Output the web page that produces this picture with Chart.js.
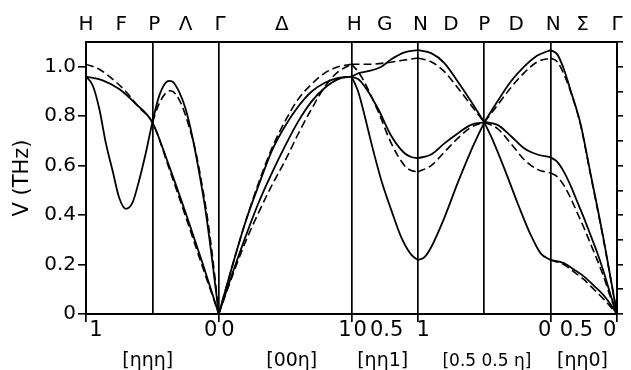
<!DOCTYPE html>
<html>
<head>
<meta charset="utf-8">
<script src="https://cdn.jsdelivr.net/npm/chart.js@4.4.0/dist/chart.umd.min.js"></script>
<style>html,body{margin:0;padding:0;background:#fff;}</style>
</head>
<body>
<canvas id="myChart" width="631" height="370"></canvas>
<script>
// x is path position: H=0, P=1, Gamma=2, H=4, N=5, P=6, N=7, Gamma=8
const segBounds = [0, 1, 2, 4, 5, 6, 7, 8];
const segExtend = [0, 2, 4, 5, 7, 8];   // boundary lines that run below the axis
const topPos = [0, 0.53, 1.03, 1.5, 2.02, 2.95, 4.04, 4.5, 5.04, 5.5, 6, 6.48, 7.04, 7.48, 8];
const topText = ['H', 'F', 'P', 'Λ', 'Γ', 'Δ', 'H', 'G', 'N', 'D', 'P', 'D', 'N', 'Σ', 'Γ'];
const coordPos = [0.15, 1.88, 2.14, 3.9, 4.13, 4.53, 5.08, 6.91, 7.39, 7.89];
const coordText = ['1', '0', '0', '1', '0', '0.5', '1', '0', '0.5', '0'];
const dirPos = [0.93, 3.1, 4.47, 6.04, 7.48];
const dirText = ['[ηηη]', '[00η]', '[ηη1]', '[0.5 0.5 η]', '[ηη0]'];

// H - P - Gamma
const hpUpper = [[0,0.96],[0.25,0.945],[0.5,0.91],[0.75,0.85],[1,0.775],[1.25,0.6],[1.5,0.41],[1.75,0.21],[2,0]];
const hpUpperD = [[0,1.01],[0.2,0.99],[0.4,0.95],[0.6,0.9],[0.8,0.835],[1,0.775],[1.25,0.59],[1.5,0.395],[1.75,0.195],[2,0]];
const hpLower = [[0,0.96],[0.1,0.925],[0.2,0.83],[0.3,0.69],[0.4,0.58],[0.5,0.47],[0.6,0.425],[0.7,0.45],[0.8,0.54],[0.9,0.65],[1,0.775],
                 [1.1,0.88],[1.2,0.935],[1.25,0.943],[1.3,0.94],[1.4,0.9],[1.5,0.83],[1.6,0.72],[1.7,0.58],[1.8,0.42],[1.9,0.22],[2,0]];
const pgPeakD = [[1,0.775],[1.1,0.85],[1.2,0.893],[1.27,0.903],[1.35,0.89],[1.45,0.84],[1.55,0.76],[1.65,0.66],[1.75,0.52],[1.85,0.35],[1.95,0.13],[2,0]];

// Gamma - H
const ghOuter = [[2,0],[2.2,0.19],[2.4,0.37],[2.6,0.52],[2.8,0.66],[3,0.76],[3.2,0.84],[3.4,0.9],[3.6,0.935],[3.8,0.955],[4,0.96]];
const ghOuterD = [[2,0],[2.2,0.19],[2.4,0.37],[2.6,0.53],[2.8,0.67],[3,0.78],[3.2,0.87],[3.4,0.93],[3.6,0.975],[3.8,1.0],[4,1.01]];
const ghInner = [[2,0],[2.2,0.16],[2.4,0.31],[2.6,0.45],[2.8,0.57],[3,0.68],[3.2,0.78],[3.4,0.86],[3.6,0.915],[3.8,0.95],[4,0.96]];
const ghInnerD = [[2,0],[2.2,0.15],[2.4,0.29],[2.6,0.41],[2.8,0.52],[3,0.62],[3.2,0.73],[3.4,0.83],[3.6,0.92],[3.8,0.98],[4,1.01]];

// H - N
const hnTop = [[4,0.96],[4.12,0.975],[4.3,0.985],[4.45,1.0],[4.6,1.03],[4.8,1.058],[5,1.067]];
const hnTopD = [[4,1.01],[4.25,1.01],[4.5,1.015],[4.75,1.025],[5,1.035]];
const hnMid = [[4,0.96],[4.1,0.95],[4.2,0.92],[4.4,0.83],[4.6,0.72],[4.8,0.65],[4.9,0.635],[5,0.63]];
const hnMidD = [[4,1.01],[4.1,0.98],[4.2,0.935],[4.4,0.82],[4.6,0.69],[4.8,0.6],[4.9,0.58],[5,0.575]];
const hnLow = [[4,0.96],[4.1,0.9],[4.2,0.8],[4.3,0.69],[4.45,0.54],[4.6,0.42],[4.75,0.31],[4.9,0.24],[5,0.218]];

// N - P
const npTop = [[5,1.067],[5.2,1.055],[5.4,1.015],[5.6,0.94],[5.8,0.86],[6,0.775]];
const npTopD = [[5,1.035],[5.2,1.02],[5.4,0.98],[5.6,0.915],[5.8,0.845],[6,0.775]];
const npMid = [[5,0.63],[5.2,0.645],[5.4,0.69],[5.6,0.73],[5.8,0.765],[6,0.775]];
const npMidD = [[5,0.575],[5.2,0.6],[5.4,0.655],[5.6,0.71],[5.8,0.755],[6,0.775]];
const npLow = [[5,0.218],[5.1,0.23],[5.2,0.27],[5.4,0.39],[5.6,0.53],[5.8,0.66],[6,0.775]];

// P - N
const pnTop = [[6,0.775],[6.2,0.86],[6.4,0.94],[6.6,1.0],[6.8,1.045],[7,1.067]];
const pnTopD = [[6,0.775],[6.2,0.845],[6.4,0.915],[6.6,0.975],[6.8,1.02],[7,1.035]];
const pnMid = [[6,0.777],[6.2,0.765],[6.4,0.72],[6.6,0.67],[6.8,0.645],[7,0.634]];
const pnMidD = [[6,0.775],[6.2,0.75],[6.4,0.69],[6.6,0.625],[6.8,0.585],[7,0.57]];
const pnLow = [[6,0.775],[6.1,0.72],[6.3,0.59],[6.5,0.45],[6.7,0.32],[6.85,0.245],[7,0.218]];

// N - Gamma
const ngTop = [[7,1.067],[7.1,1.05],[7.2,0.99],[7.3,0.905],[7.45,0.77],[7.6,0.57],[7.8,0.3],[8,0]];
const ngTopD = [[7,1.035],[7.1,1.02],[7.2,0.97],[7.3,0.9],[7.45,0.765],[7.6,0.565],[7.8,0.295],[8,0]];
const ngMid = [[7,0.634],[7.1,0.615],[7.2,0.575],[7.3,0.52],[7.4,0.455],[7.5,0.39],[7.6,0.32],[7.7,0.25],[7.8,0.17],[7.9,0.08],[8,0]];
const ngMidD = [[7,0.57],[7.1,0.555],[7.2,0.52],[7.3,0.47],[7.4,0.41],[7.5,0.35],[7.6,0.285],[7.7,0.22],[7.8,0.15],[7.9,0.07],[8,0]];
const ngLow = [[7,0.218],[7.2,0.206],[7.35,0.18],[7.5,0.152],[7.65,0.115],[7.8,0.075],[7.9,0.04],[8,0]];
const ngLowD = [[7,0.218],[7.2,0.2],[7.35,0.17],[7.5,0.14],[7.65,0.1],[7.8,0.06],[7.9,0.03],[8,0]];

const solidCurves = [hpUpper, hpLower, ghOuter, ghInner, hnTop, hnMid, hnLow, npTop, npMid, npLow, pnTop, pnMid, pnLow, ngTop, ngMid, ngLow];
const dashedCurves = [hpUpperD, pgPeakD, ghOuterD, ghInnerD, hnTopD, hnMidD, npTopD, npMidD, pnTopD, pnMidD, ngTopD, ngMidD, ngLowD];

const FONT = 'DejaVu Sans';

function makeSet(arr, dashed) {
    return {
        data: arr.map(function(p) {return {x: p[0], y: p[1]};}),
        showLine: true,
        borderColor: '#000',
        borderWidth: dashed ? 1.6 : 1.8,
        borderDash: dashed ? [8, 4] : [],
        pointRadius: 0,
        cubicInterpolationMode: 'monotone'
    };
}

let datasets = solidCurves.map(function(c) {return makeSet(c, false);})
    .concat(dashedCurves.map(function(c) {return makeSet(c, true);}));

// bottom axis ticks: boundary lines plus the coordinate and direction labels
let xTicks = [];
segBounds.forEach(function(v) {xTicks.push({value: v, kind: 'bound', txt: '', ext: segExtend.indexOf(v) >= 0});});
coordPos.forEach(function(v, i) {xTicks.push({value: v, kind: 'coord', txt: coordText[i]});});
dirPos.forEach(function(v, i) {xTicks.push({value: v, kind: 'dir', txt: dirText[i]});});
xTicks.sort(function(a, b) {return a.value - b.value;});

let myChart = document.getElementById('myChart').getContext('2d');
let dispersionChart = new Chart(myChart, {
    type: 'scatter',
    data: {datasets: datasets},
    options: {
        responsive: false,
        animation: false,
        devicePixelRatio: 1,
        layout: {padding: 0},
        plugins: {legend: {display: false}, tooltip: {enabled: false}},
        scales: {
            x: {
                type: 'linear', position: 'bottom', min: 0, max: 8,
                afterBuildTicks: function(s) {
                    s.ticks = xTicks.map(function(t) {return {value: t.value, kind: t.kind, txt: t.txt, ext: t.ext};});
                },
                afterFit: function(s) {s.height = 56;},
                ticks: {
                    autoSkip: false, maxRotation: 0, minRotation: 0, padding: -2, color: '#000',
                    callback: function(v, i, ticks) {
                        return ticks[i].kind === 'dir' ? ['', ticks[i].txt] : ticks[i].txt;
                    },
                    font: function(c) {
                        if (c.tick && c.tick.kind === 'dir') {
                            let big = c.tick.txt.length < 7;
                            return {family: FONT, size: big ? 19 : 17, lineHeight: big ? 1.45 : 1.62};
                        }
                        return {family: FONT, size: 21, lineHeight: 1.0};
                    }
                },
                grid: {
                    lineWidth: 1.7, tickLength: 8, tickWidth: 1.7,
                    color: function(c) {return c.tick && c.tick.kind === 'bound' ? '#000' : 'rgba(0,0,0,0)';},
                    tickColor: function(c) {return c.tick && c.tick.ext ? '#000' : 'rgba(0,0,0,0)';}
                },
                border: {color: '#000', width: 2}
            },
            xt: {
                type: 'linear', position: 'top', min: 0, max: 8,
                afterBuildTicks: function(s) {s.ticks = topPos.map(function(v) {return {value: v};});},
                afterFit: function(s) {s.height = 42;},
                ticks: {
                    autoSkip: false, maxRotation: 0, minRotation: 0, padding: 5, color: '#000',
                    font: {family: FONT, size: 20},
                    callback: function(v, i) {return topText[i];}
                },
                grid: {display: false, drawTicks: false, tickLength: 0},
                border: {color: '#000', width: 2}
            },
            y: {
                type: 'linear', position: 'left', min: 0, max: 1.1,
                afterFit: function(s) {s.width = 86;},
                ticks: {
                    stepSize: 0.1, padding: 2, color: '#000',
                    font: {family: FONT, size: 20},
                    callback: function(v) {
                        let k = Math.round(v * 10);
                        if (k === 0) return '0';
                        if (k % 2 === 0 && k <= 10) return (k / 10).toFixed(1);
                        return '';
                    }
                },
                grid: {drawOnChartArea: false, tickLength: 8, color: '#000', lineWidth: 1.6},
                border: {color: '#000', width: 2},
                title: {display: true, text: 'V (THz)', color: '#000', font: {family: FONT, size: 21}, padding: {top: 10, bottom: 0}}
            },
            y2: {
                type: 'linear', position: 'right', min: 0, max: 1.1,
                afterFit: function(s) {s.width = 14;},
                ticks: {display: false, stepSize: 0.1},
                grid: {drawOnChartArea: false, tickLength: 6, color: '#000', lineWidth: 1.6},
                border: {color: '#000', width: 2}
            }
        }
    }
});
</script>
</body>
</html>
